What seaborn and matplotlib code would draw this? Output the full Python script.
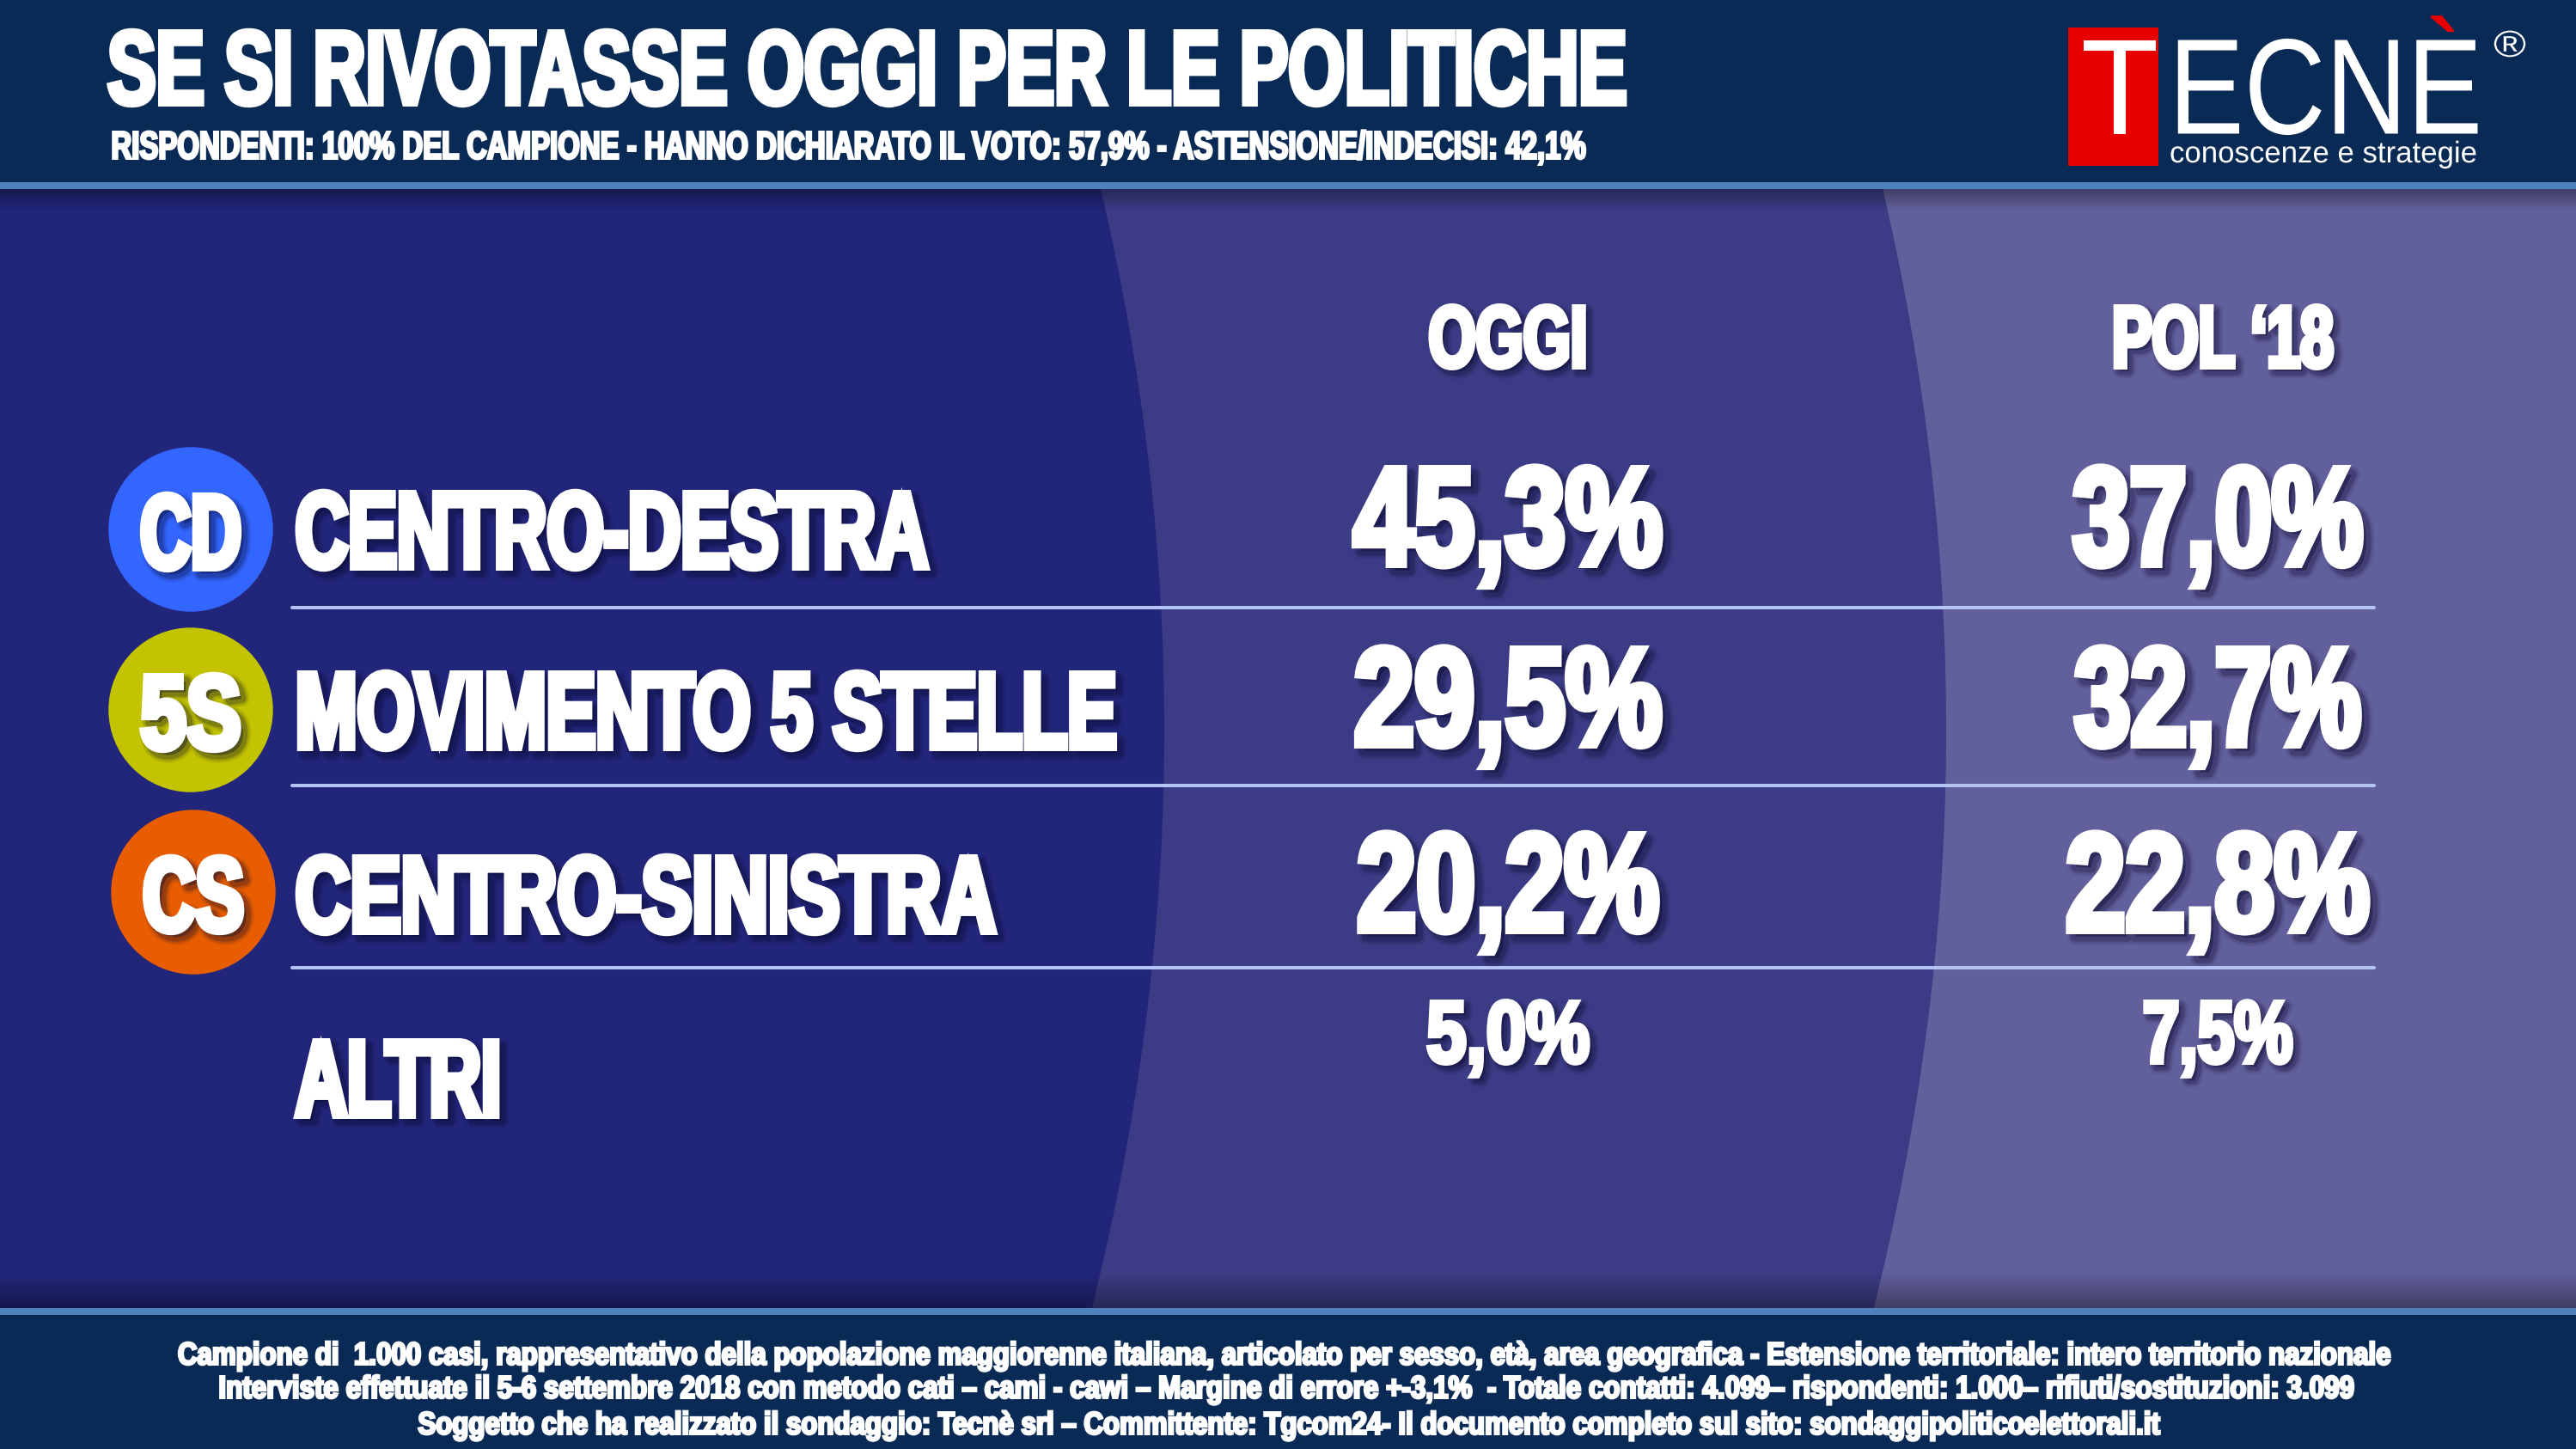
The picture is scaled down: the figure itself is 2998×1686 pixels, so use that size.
import numpy as np
import pandas as pd
import seaborn as sns
import matplotlib.pyplot as plt
from matplotlib.colors import to_rgb
from matplotlib.patches import Rectangle, PathPatch
from matplotlib.path import Path
from matplotlib.patheffects import AbstractPathEffect
from matplotlib.transforms import Affine2D, Bbox

# Data
title = "SE SI RIVOTASSE OGGI PER LE POLITICHE"
subtitle = "RISPONDENTI: 100% DEL CAMPIONE - HANNO DICHIARATO IL VOTO: 57,9% - ASTENSIONE/INDECISI: 42,1%"
columns = ["OGGI", "POL \u201818"]
parties = ["CENTRO-DESTRA", "MOVIMENTO 5 STELLE", "CENTRO-SINISTRA", "ALTRI"]
sigle = ["CD", "5S", "CS"]
oggi = [45.3, 29.5, 20.2, 5.0]
pol18 = [37.0, 32.7, 22.8, 7.5]
footer = [
    "Campione di  1.000 casi, rappresentativo della popolazione maggiorenne italiana, articolato per sesso, età, area geografica - Estensione territoriale: intero territorio nazionale",
    "Interviste effettuate il 5-6 settembre 2018 con metodo cati \u2013 cami - cawi \u2013 Margine di errore +-3,1%  - Totale contatti: 4.099\u2013 rispondenti: 1.000\u2013 rifiuti/sostituzioni: 3.099",
    "Soggetto che ha realizzato il sondaggio: Tecnè srl \u2013 Committente: Tgcom24- Il documento completo sul sito: sondaggipoliticoelettorali.it",
]
sigla_colors = ["#3366ff", "#c3c300", "#e85d00"]

W, H = 2998, 1686
CAP = 0.688  # cap height of Liberation Sans, in em
RED = "#e60000"
HEAVY = ["Liberation Sans Narrow", "Liberation Sans", "DejaVu Sans"]
PLAIN = ["Liberation Sans", "DejaVu Sans"]


class Stretch(AbstractPathEffect):
    # stretch the glyphs around their left end and baseline, fatten them, add a soft shadow
    def __init__(self, x0, base, sx, sy, stroke=0, shadow=0, accent_y=None):
        self.x0, self.base, self.sx, self.sy = x0, base, sx, sy
        self.stroke, self.shadow, self.accent_y = stroke, shadow, accent_y

    def draw_path(self, renderer, gc, tpath, affine, rgbFace=None):
        aff = affine + Affine2D().translate(-self.x0, -self.base).scale(self.sx, self.sy).translate(self.x0, self.base)
        if self.shadow:
            for grow, alpha in [(8, 0.08), (5, 0.12), (2, 0.22)]:
                g = renderer.new_gc()
                g.copy_properties(gc)
                g.set_foreground("#0a0a30")
                g.set_alpha(alpha)
                g.set_linewidth(self.stroke + grow)
                renderer.draw_path(g, tpath, aff + Affine2D().translate(self.shadow, -self.shadow), (0.04, 0.04, 0.19))
                g.restore()
        g = renderer.new_gc()
        g.copy_properties(gc)
        g.set_joinstyle("miter")
        g.set_capstyle("butt")
        g.set_foreground(rgbFace)
        g.set_linewidth(self.stroke)
        if self.accent_y is None:
            renderer.draw_path(g, tpath, aff, rgbFace)
        else:
            # the grave of the logo is red, the letters below it white
            cut = H - self.accent_y
            g.set_clip_rectangle(Bbox([[0, 0], [W, cut]]))
            renderer.draw_path(g, tpath, aff, rgbFace)
            g.set_clip_rectangle(Bbox([[0, cut], [W, H]]))
            renderer.draw_path(g, tpath, aff, to_rgb(RED))
        g.restore()


sns.set_theme(style="white")
plt.rcParams["font.family"] = PLAIN

fig = plt.figure(figsize=(W / 100, H / 100), dpi=100, facecolor="#22267a")
ax = fig.add_axes([0, 0, 1, 1])
ax.set_xlim(0, W)
ax.set_ylim(H, 0)
ax.axis("off")
rend = fig.canvas.get_renderer()


def label(s, y, cap, width, x=None, cx=None, stroke=5, shadow=6, color="white",
          weight="bold", family=HEAVY, accent_y=None, zorder=6):
    # y is the middle of the capitals, all sizes are in pixels and include the stroke
    lw = stroke * 100 / 72
    inner = cap - lw
    baseline = y + inner / 2
    t = ax.text(0, baseline, s, fontsize=inner / CAP * 72 / 100, color=color, weight=weight,
                family=family, va="baseline", ha="left", zorder=zorder)
    # pick the font size that gives the width, the height comes from the stretch
    t.set_fontsize(t.get_fontsize() * (width - lw) / t.get_window_extent(rend).width)
    sx = (width - lw) / t.get_window_extent(rend).width
    sy = inner / (t.get_fontsize() * 100 / 72 * CAP)
    left = (x if x is not None else cx - width / 2) + lw / 2
    t.set_x(left)
    t.set_path_effects([Stretch(left, H - baseline, sx, sy, stroke, shadow, accent_y)])
    return t


def panel(x_top, x_mid, x_bot, color, zorder):
    y0, y1 = 215, 1525
    ym = (y0 + y1) / 2
    verts = [(x_top, y0), (2 * x_mid - (x_top + x_bot) / 2, ym), (x_bot, y1), (W, y1), (W, y0), (x_top, y0)]
    codes = [Path.MOVETO, Path.CURVE3, Path.CURVE3, Path.LINETO, Path.LINETO, Path.CLOSEPOLY]
    ax.add_patch(PathPatch(Path(verts, codes), fc=color, ec="none", zorder=zorder))


# Curved background panels
panel(1280, 1355, 1270, "#3c3c86", 1)
panel(2190, 2265, 2180, "#62609c", 2)

# Dark fade at the top and bottom of the panel
fade = np.linspace(0, 1, 40).reshape(-1, 1)
black = np.zeros_like(fade)
ax.imshow(black, extent=(0, W, 245, 220), cmap="gray", vmin=0, vmax=1, alpha=fade[::-1] * 0.35, aspect="auto", zorder=3)
ax.imshow(black, extent=(0, W, 1522, 1480), cmap="gray", vmin=0, vmax=1, alpha=fade * 0.35, aspect="auto", zorder=3)
ax.set_xlim(0, W)
ax.set_ylim(H, 0)

# Header and footer bands
ax.add_patch(Rectangle((0, 0), W, 212, fc="#0a2a56", ec="none", zorder=4))
ax.add_patch(Rectangle((0, 212), W, 8, fc="#4f81bd", ec="none", zorder=4))
ax.add_patch(Rectangle((0, 1530), W, H - 1530, fc="#0a2a56", ec="none", zorder=4))
ax.add_patch(Rectangle((0, 1522), W, 8, fc="#4f81bd", ec="none", zorder=4))

label(title, 79, 90, x=122, width=1773, stroke=4.5, shadow=0)
label(subtitle, 169, 34, x=128, width=1722, stroke=2, shadow=0)

# Logo
ax.add_patch(Rectangle((2407, 32), 105, 161, fc=RED, ec="none", zorder=5))
light = dict(stroke=0, shadow=0, weight="normal", family=PLAIN)
label("T", 101, 109, x=2422, width=90, **light)
label("ECNÈ", 101, 109, x=2524, width=365, accent_y=44, **light)
label("conoscenze e strategie", 177, 24, x=2525, width=358, **light)
label("\u00ae", 51, 30, cx=2921, width=38, **light)

# Table
row_y = [617, 827, 1041, 1255]
value_y = [601, 811, 1027, 1201]
rule_y = [707, 914, 1126]
col_x = [1755, 2581]
name_w = [745, 963, 823, 247]
oggi_w = [368, 367, 360, 195]
pol18_w = [346, 342, 362, 180]

label(columns[0], 392, 76, cx=col_x[0], width=191, stroke=4.5, shadow=5)
label(columns[1], 392, 76, cx=2587, width=264, stroke=4.5, shadow=5)

for i, name in enumerate(parties):
    label(name, row_y[i], 94, x=340, width=name_w[i], stroke=5.5, shadow=6)
    big = i < 3
    for cx, series, widths in zip(col_x, [oggi, pol18], [oggi_w, pol18_w]):
        text = f"{series[i]:.1f}%".replace(".", ",")
        label(text, value_y[i], 120 if big else 76, cx=cx, width=widths[i],
              stroke=6 if big else 4, shadow=7 if big else 5)

for y in rule_y:
    ax.plot([340, 2763], [y, y], color="#b4c4f4", lw=2.9, solid_capstyle="round", zorder=5)

# Party badges
badges = pd.DataFrame({"sigla": sigle, "x": [222, 222, 225], "y": [616, 826, 1038]})
sns.scatterplot(data=badges, x="x", y="y", hue="sigla", palette=sigla_colors, hue_order=sigle,
                s=19000, linewidth=0, legend=False, ax=ax, zorder=5)
for row in badges.itertuples():
    label(row.sigla, row.y + 3, 92, cx=row.x, width=125, stroke=5.5, shadow=6)
ax.set_xlim(0, W)
ax.set_ylim(H, 0)
ax.axis("off")

# Footer
footer_y = [1575, 1614, 1656]
footer_w = [2587, 2492, 2028]
for s, y, w in zip(footer, footer_y, footer_w):
    label(s, y, 28, cx=W / 2, width=w, stroke=2, shadow=0)

fig.savefig("out.png", dpi=100, facecolor=fig.get_facecolor())
